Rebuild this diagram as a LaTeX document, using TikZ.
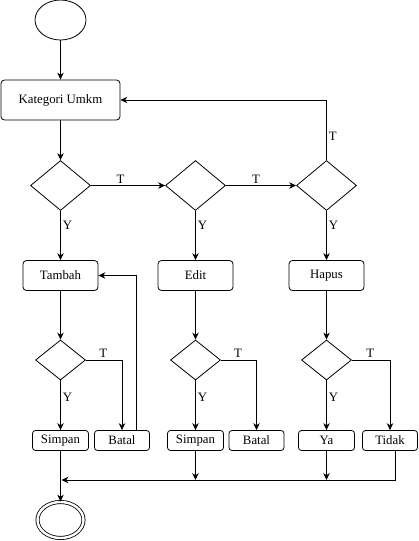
\documentclass[tikz,border=0pt]{standalone}
\usepackage{fontspec}
\setmainfont{Liberation Serif}
\usetikzlibrary{shapes.geometric,arrows.meta}
\tikzset{
	proses/.style={draw, rounded corners=3.5pt, inner sep=0pt, minimum height=#1},
	proses/.default=30pt,
	pilihan/.style={draw, diamond, inner sep=0pt, minimum width=60pt, minimum height=50pt},
	cek/.style={draw, diamond, inner sep=0pt, minimum width=50pt, minimum height=40pt},
	hasil/.style={draw, rounded corners=3pt, inner sep=0pt, minimum height=20pt, minimum width=#1},
	hasil/.default=56pt,
	ket/.style={inner sep=2pt}
}
\begin{document}
\begin{tikzpicture}[x=1pt, y=-1pt, line width=0.8pt, >={Stealth[length=7pt,width=6.5pt]}, font=\fontsize{12.8}{15}\selectfont]
	\useasboundingbox (0,0) rectangle (418,541);
	\node[draw, ellipse, minimum width=51pt, minimum height=40pt] (mulai) at (60.5,20) {};
	\node[proses=40pt, minimum width=119pt] (kategori) at (60.5,100) {Kategori Umkm};
	\node[pilihan] (pilihTambah) at (60.5,185.5) {};
	\node[pilihan] (pilihEdit) at (195.5,185.5) {};
	\node[pilihan] (pilihHapus) at (326.5,185.5) {};
	\node[proses, minimum width=75pt] (tambah) at (60.5,275.5) {Tambah};
	\node[proses, minimum width=75pt] (edit) at (195.5,275.5) {Edit};
	\node[proses, minimum width=75pt] (hapus) at (326.5,275.5) {Hapus};
	\node[cek] (cekTambah) at (60.5,360) {};
	\node[cek] (cekEdit) at (195.5,360) {};
	\node[cek] (cekHapus) at (326.5,360) {};
	\node[hasil] (simpanTambah) at (60.5,440.5) {Simpan};
	\node[hasil=55pt] (batalTambah) at (122,440.5) {Batal};
	\node[hasil] (simpanEdit) at (195.5,440.5) {Simpan};
	\node[hasil=55pt] (batalEdit) at (256.5,440.5) {Batal};
	\node[hasil] (ya) at (326.5,440.5) {Ya};
	\node[hasil=55pt] (tidak) at (390,440.5) {Tidak};
	\node[draw, ellipse, double, double distance=2.4pt, minimum width=46pt, minimum height=36pt] (selesai) at (60.5,520) {};
	\coordinate (gabung) at (60.5,480);

	\draw[->] (mulai) -- (kategori);
	\draw[->] (kategori) -- (pilihTambah);
	\draw[->] (pilihTambah) -- node[ket, above, pos=0.4] {T} (pilihEdit);
	\draw[->] (pilihEdit) -- node[ket, above, pos=0.43] {T} (pilihHapus);
	\draw[->] (pilihHapus) |- node[ket, right, pos=0.2] {T} (kategori);
	\draw[->] (pilihTambah) -- node[ket, right, pos=0.3] {Y} (tambah);
	\draw[->] (pilihEdit) -- node[ket, right, pos=0.3] {Y} (edit);
	\draw[->] (pilihHapus) -- node[ket, right, pos=0.3] {Y} (hapus);
	\draw[->] (tambah) -- (cekTambah);
	\draw[->] (edit) -- (cekEdit);
	\draw[->] (hapus) -- (cekHapus);
	\draw[->] (cekTambah) -- node[ket, right, pos=0.34] {Y} (simpanTambah);
	\draw[->] (cekEdit) -- node[ket, right, pos=0.34] {Y} (simpanEdit);
	\draw[->] (cekHapus) -- node[ket, right, pos=0.34] {Y} (ya);
	\draw[->] (cekTambah) -| node[ket, above, pos=0.24] {T} (batalTambah);
	\draw[->] (cekEdit) -| node[ket, above, pos=0.24] {T} (batalEdit);
	\draw[->] (cekHapus) -| node[ket, above, pos=0.24] {T} (tidak);
	\draw[->] ([xshift=14pt]batalTambah.north) |- (tambah);
	\draw[->] (simpanTambah) -- (selesai);
	\draw[->] (simpanEdit) -- (simpanEdit |- gabung);
	\draw[->] (ya) -- (ya |- gabung);
	\draw[->] ([xshift=5.5pt]tidak.south) |- ([xshift=1pt]gabung);
\end{tikzpicture}
\end{document}
